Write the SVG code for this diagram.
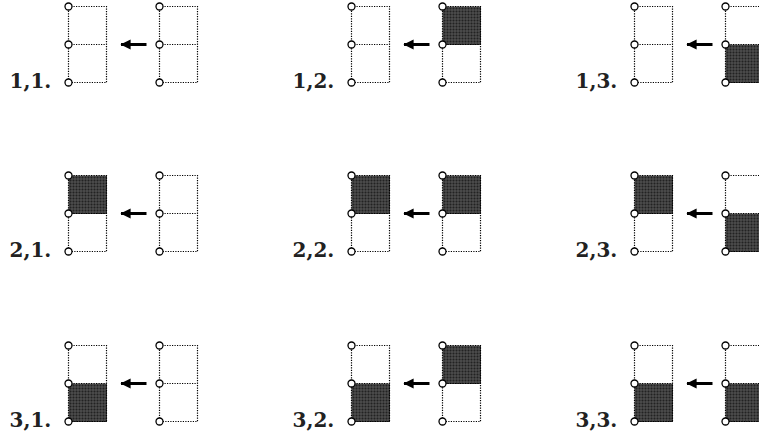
<svg xmlns="http://www.w3.org/2000/svg" width="759" height="439" viewBox="0 0 759 439">
<defs>
<pattern id="hatch" width="3" height="3" patternUnits="userSpaceOnUse">
<rect width="3" height="3" fill="#222"/>
<path d="M0 0.5H3M0.5 0V3" stroke="#6e6e6e" stroke-width="0.6"/>
</pattern>
<marker id="ah" markerWidth="4" markerHeight="4" refX="3.2" refY="2" orient="auto" markerUnits="strokeWidth">
<path d="M0 0.35L3.4 2L0 3.65Z" fill="#000"/>
</marker>
<g id="frame">
<path class="dot" d="M0 0H38V76H0ZM0 38H38"/>
<circle class="pt" cx="0" cy="0" r="3.5"/>
<circle class="pt" cx="0" cy="38" r="3.5"/>
<circle class="pt" cx="0" cy="76" r="3.5"/>
</g>
<rect id="shade" x="0" y="0" width="38.5" height="38.5" fill="url(#hatch)"/>
</defs>
<style>
.dot{fill:none;stroke:#000;stroke-width:1.2;stroke-dasharray:1.2 1.3}
.pt{fill:#fff;stroke:#000;stroke-width:1.3}
.lbl{font-family:"DejaVu Serif","Liberation Serif",serif;font-weight:bold;font-size:20px;fill:#222}
.arr{stroke:#000;stroke-width:3;fill:none}
</style>
<g id="connectors">
<line class="arr" x1="146.5" y1="44.5" x2="121" y2="44.5" marker-end="url(#ah)"/>
<line class="arr" x1="429.5" y1="44.5" x2="404" y2="44.5" marker-end="url(#ah)"/>
<line class="arr" x1="712.5" y1="44.5" x2="687" y2="44.5" marker-end="url(#ah)"/>
<line class="arr" x1="146.5" y1="213.5" x2="121" y2="213.5" marker-end="url(#ah)"/>
<line class="arr" x1="429.5" y1="213.5" x2="404" y2="213.5" marker-end="url(#ah)"/>
<line class="arr" x1="712.5" y1="213.5" x2="687" y2="213.5" marker-end="url(#ah)"/>
<line class="arr" x1="146.5" y1="383.5" x2="121" y2="383.5" marker-end="url(#ah)"/>
<line class="arr" x1="429.5" y1="383.5" x2="404" y2="383.5" marker-end="url(#ah)"/>
<line class="arr" x1="712.5" y1="383.5" x2="687" y2="383.5" marker-end="url(#ah)"/>
</g>
<g id="p11" transform="translate(68.5,6.5)">
<text class="lbl" x="-59" y="81">1,1.</text>
<use href="#frame"/>
<use href="#frame" x="91"/>
</g>
<g id="p12" transform="translate(351.5,6.5)">
<text class="lbl" x="-59" y="81">1,2.</text>
<use href="#frame"/>
<use href="#shade" x="91"/>
<use href="#frame" x="91"/>
</g>
<g id="p13" transform="translate(634.5,6.5)">
<text class="lbl" x="-59" y="81">1,3.</text>
<use href="#frame"/>
<use href="#shade" x="91" y="38"/>
<use href="#frame" x="91"/>
</g>
<g id="p21" transform="translate(68.5,175.5)">
<text class="lbl" x="-59" y="81">2,1.</text>
<use href="#shade"/>
<use href="#frame"/>
<use href="#frame" x="91"/>
</g>
<g id="p22" transform="translate(351.5,175.5)">
<text class="lbl" x="-59" y="81">2,2.</text>
<use href="#shade"/>
<use href="#frame"/>
<use href="#shade" x="91"/>
<use href="#frame" x="91"/>
</g>
<g id="p23" transform="translate(634.5,175.5)">
<text class="lbl" x="-59" y="81">2,3.</text>
<use href="#shade"/>
<use href="#frame"/>
<use href="#shade" x="91" y="38"/>
<use href="#frame" x="91"/>
</g>
<g id="p31" transform="translate(68.5,345.5)">
<text class="lbl" x="-59" y="81">3,1.</text>
<use href="#shade" y="38"/>
<use href="#frame"/>
<use href="#frame" x="91"/>
</g>
<g id="p32" transform="translate(351.5,345.5)">
<text class="lbl" x="-59" y="81">3,2.</text>
<use href="#shade" y="38"/>
<use href="#frame"/>
<use href="#shade" x="91"/>
<use href="#frame" x="91"/>
</g>
<g id="p33" transform="translate(634.5,345.5)">
<text class="lbl" x="-59" y="81">3,3.</text>
<use href="#shade" y="38"/>
<use href="#frame"/>
<use href="#shade" x="91" y="38"/>
<use href="#frame" x="91"/>
</g>
</svg>
